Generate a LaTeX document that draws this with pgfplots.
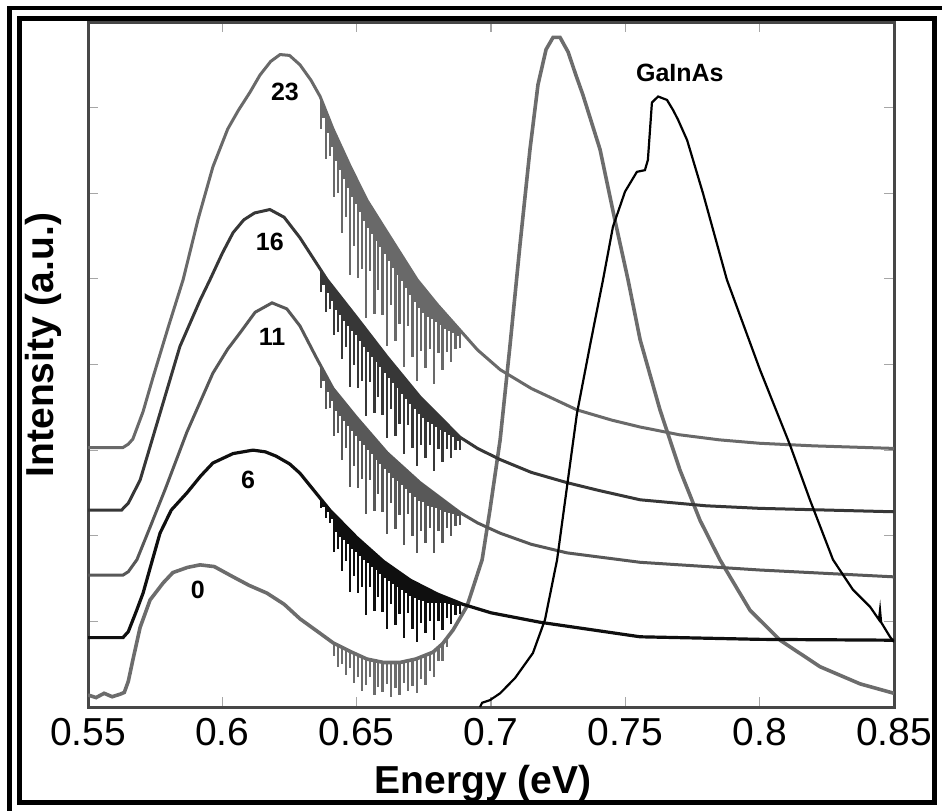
\documentclass[border=0pt]{standalone}
\usepackage{fontspec}
\setmainfont{Liberation Sans}
\usepackage{pgfplots}
\pgfplotsset{compat=1.18}

\definecolor{cZero}{RGB}{108,108,108}
\definecolor{cTwth}{RGB}{105,105,105}
\definecolor{cSixt}{RGB}{55,55,55}
\definecolor{cElev}{RGB}{88,88,88}
\definecolor{cSix}{RGB}{15,15,15}

\newcommand{\tickfont}{\fontsize{19.5bp}{20bp}\selectfont}
\newcommand{\labfont}{\bfseries\fontsize{19.5bp}{20bp}\selectfont}
\newcommand{\curvefont}{\bfseries\fontsize{12.5bp}{13bp}\selectfont}

\pgfplotsset{
  dips/.style={draw=none, mark=none, forget plot,
    error bars/.cd, y dir=minus, y explicit, error mark=none,
    error bar style={draw=#1, solid, line width=1.2bp}},
}

\begin{document}
\begin{tikzpicture}
\useasboundingbox (0,0) rectangle (471bp,405.5bp);

\begin{axis}[
  at={(44bp,52bp)}, anchor=south west,
  scale only axis, width=403bp, height=342.5bp,
  xmin=0.55, xmax=0.85, ymin=0, ymax=8,
  xtick={0.55,0.6,0.65,0.7,0.75,0.8,0.85},
  xticklabels={0.55,0.6,0.65,0.7,0.75,0.8,0.85},
  ytick={1,2,3,4,5,6,7}, yticklabels={},
  xticklabel style={font=\tickfont, yshift=-2bp},
  axis line style={draw=black!72, line width=1.5bp},
  tick style={draw=black!35, line width=0.6bp},
  major tick length=5bp, tick align=inside,
]

%% sample 0 together with the large peak near 0.725 eV
\addplot[cZero, line width=1.8bp] table {
0.5500 0.14
0.5530 0.11
0.5560 0.16
0.5590 0.12
0.5620 0.15
0.5635 0.17
0.5650 0.30
0.5667 0.55
0.5694 0.93
0.5731 1.25
0.5780 1.45
0.5816 1.57
0.5870 1.63
0.5917 1.66
0.5970 1.64
0.6040 1.52
0.6100 1.42
0.6166 1.33
0.6230 1.20
0.6289 1.03
0.6364 0.86
0.6412 0.75
0.6475 0.65
0.6538 0.56
0.6600 0.52
0.6661 0.52
0.6720 0.56
0.6784 0.64
0.6820 0.74
0.6859 0.90
0.6911 1.18
0.6967 1.72
0.6996 2.30
0.7034 3.12
0.7071 4.23
0.7108 5.40
0.7145 6.51
0.7175 7.27
0.7205 7.68
0.7231 7.82
0.7257 7.82
0.7287 7.65
0.7316 7.38
0.7342 7.15
0.7406 6.51
0.7461 5.69
0.7510 4.99
0.7555 4.29
0.7629 3.47
0.7703 2.77
0.7778 2.18
0.7852 1.72
0.7964 1.13
0.8076 0.78
0.8225 0.47
0.8374 0.27
0.8500 0.16
};
\addplot[dips=cZero] table[x=x, y=y, y error=d] {
x y d
0.6415 0.75 0.15
0.6430 0.72 0.25
0.6446 0.70 0.20
0.6460 0.67 0.30
0.6476 0.65 0.20
0.6490 0.63 0.35
0.6505 0.60 0.25
0.6520 0.59 0.40
0.6535 0.56 0.30
0.6550 0.55 0.20
0.6566 0.54 0.40
0.6580 0.53 0.30
0.6596 0.52 0.35
0.6612 0.52 0.25
0.6628 0.52 0.40
0.6644 0.52 0.30
0.6660 0.52 0.38
0.6676 0.53 0.25
0.6692 0.54 0.35
0.6708 0.55 0.30
0.6724 0.56 0.40
0.6740 0.58 0.25
0.6756 0.61 0.35
0.6772 0.62 0.20
0.6788 0.65 0.30
0.6804 0.69 0.15
0.6820 0.74 0.20
0.6836 0.80 0.10
};

%% sample 23
\addplot[cTwth, line width=1.5bp] table {
0.5500 3.03
0.5630 3.03
0.5650 3.07
0.5667 3.13
0.5705 3.45
0.5742 3.85
0.5800 4.45
0.5854 4.99
0.5910 5.70
0.5965 6.31
0.6020 6.75
0.6060 6.97
0.6103 7.18
0.6140 7.38
0.6180 7.54
0.6215 7.62
0.6250 7.61
0.6289 7.50
0.6330 7.32
0.6364 7.13
0.6412 6.75
0.6475 6.32
0.6538 5.92
0.6600 5.61
0.6725 4.99
0.6800 4.70
0.6885 4.40
0.6950 4.17
0.7034 3.94
0.7150 3.72
0.7320 3.47
0.7450 3.35
0.7555 3.27
0.7700 3.18
0.7850 3.12
0.8000 3.08
0.8200 3.05
0.8500 3.02
};
\addplot[dips=cTwth] table[x=x, y=y, y error=d] {
x y d
0.6368 7.10 0.35
0.6376 7.03 0.15
0.6385 6.96 0.56
0.6392 6.90 0.20
0.6400 6.85 0.42
0.6408 6.79 0.25
0.6415 6.73 0.77
0.6422 6.68 0.30
0.6430 6.63 0.63
0.6438 6.57 0.30
0.6446 6.52 0.98
0.6453 6.47 0.30
0.6460 6.42 0.70
0.6468 6.36 0.30
0.6476 6.31 1.26
0.6483 6.26 0.30
0.6490 6.22 0.84
0.6498 6.17 0.30
0.6505 6.13 1.12
0.6512 6.08 0.30
0.6520 6.03 0.91
0.6528 5.98 0.30
0.6535 5.94 1.40
0.6542 5.90 0.30
0.6550 5.86 0.77
0.6558 5.82 0.30
0.6566 5.78 1.19
0.6573 5.74 0.30
0.6580 5.71 0.84
0.6588 5.67 0.30
0.6596 5.63 1.05
0.6604 5.59 0.30
0.6612 5.55 1.33
0.6620 5.51 0.30
0.6628 5.47 0.77
0.6636 5.43 0.30
0.6644 5.39 1.12
0.6652 5.35 0.30
0.6660 5.31 0.84
0.6668 5.27 0.30
0.6676 5.23 1.26
0.6684 5.19 0.30
0.6692 5.15 0.70
0.6700 5.11 0.30
0.6708 5.07 0.98
0.6716 5.03 0.30
0.6724 5.00 1.19
0.6732 4.96 0.30
0.6740 4.93 0.77
0.6748 4.90 0.30
0.6756 4.87 0.91
0.6764 4.84 0.28
0.6772 4.81 0.63
0.6780 4.78 0.25
0.6788 4.75 0.98
0.6796 4.72 0.22
0.6804 4.69 0.56
0.6812 4.66 0.20
0.6820 4.63 0.70
0.6828 4.60 0.18
0.6836 4.57 0.42
0.6844 4.54 0.15
0.6852 4.52 0.49
0.6860 4.49 0.12
0.6868 4.46 0.28
0.6876 4.43 0.10
0.6884 4.40 0.21
};

%% sample 16
\addplot[cSixt, line width=1.5bp] table {
0.5500 2.30
0.5625 2.30
0.5650 2.38
0.5694 2.65
0.5768 3.43
0.5842 4.21
0.5917 4.75
0.5954 4.99
0.6000 5.30
0.6040 5.54
0.6080 5.69
0.6120 5.77
0.6177 5.81
0.6230 5.72
0.6289 5.48
0.6390 4.99
0.6500 4.55
0.6613 4.09
0.6736 3.62
0.6885 3.15
0.6950 3.02
0.7034 2.89
0.7150 2.74
0.7283 2.62
0.7400 2.53
0.7555 2.42
0.7800 2.35
0.8000 2.32
0.8500 2.28
};
\addplot[dips=cSixt] table[x=x, y=y, y error=d] {
x y d
0.6368 5.10 0.25
0.6376 5.05 0.12
0.6385 5.01 0.40
0.6392 4.98 0.15
0.6400 4.95 0.30
0.6408 4.92 0.18
0.6415 4.89 0.55
0.6422 4.86 0.22
0.6430 4.83 0.45
0.6438 4.80 0.22
0.6446 4.76 0.70
0.6453 4.73 0.22
0.6460 4.71 0.50
0.6468 4.67 0.22
0.6476 4.64 0.90
0.6483 4.61 0.22
0.6490 4.59 0.60
0.6498 4.56 0.22
0.6505 4.53 0.80
0.6512 4.50 0.22
0.6520 4.46 0.65
0.6528 4.43 0.22
0.6535 4.40 1.00
0.6542 4.37 0.22
0.6550 4.34 0.55
0.6558 4.31 0.22
0.6566 4.28 0.85
0.6573 4.25 0.22
0.6580 4.22 0.60
0.6588 4.19 0.22
0.6596 4.16 0.75
0.6604 4.12 0.22
0.6612 4.09 0.95
0.6620 4.06 0.22
0.6628 4.03 0.55
0.6636 4.00 0.22
0.6644 3.97 0.80
0.6652 3.94 0.22
0.6660 3.91 0.60
0.6668 3.88 0.22
0.6676 3.85 0.90
0.6684 3.82 0.22
0.6692 3.79 0.50
0.6700 3.76 0.22
0.6708 3.73 0.70
0.6716 3.70 0.22
0.6724 3.67 0.85
0.6732 3.64 0.22
0.6740 3.61 0.55
0.6748 3.58 0.20
0.6756 3.56 0.65
0.6764 3.53 0.20
0.6772 3.51 0.45
0.6780 3.48 0.18
0.6788 3.46 0.70
0.6796 3.43 0.16
0.6804 3.41 0.40
0.6812 3.38 0.14
0.6820 3.36 0.50
0.6828 3.33 0.12
0.6836 3.31 0.30
0.6844 3.28 0.10
0.6852 3.26 0.35
0.6860 3.23 0.08
0.6868 3.20 0.20
0.6876 3.17 0.06
0.6884 3.15 0.15
};

%% sample 11
\addplot[cElev, line width=1.5bp] table {
0.5500 1.54
0.5630 1.54
0.5650 1.58
0.5682 1.72
0.5731 2.10
0.5787 2.54
0.5868 3.21
0.5965 3.90
0.6020 4.18
0.6066 4.37
0.6122 4.61
0.6185 4.72
0.6240 4.65
0.6289 4.45
0.6350 4.08
0.6412 3.72
0.6500 3.38
0.6613 2.97
0.6736 2.62
0.6885 2.27
0.6950 2.15
0.7034 2.03
0.7150 1.90
0.7283 1.80
0.7555 1.69
0.8000 1.60
0.8500 1.52
};
\addplot[dips=cElev] table[x=x, y=y, y error=d] {
x y d
0.6368 3.98 0.25
0.6376 3.93 0.12
0.6385 3.88 0.40
0.6392 3.83 0.15
0.6400 3.79 0.30
0.6408 3.75 0.18
0.6415 3.71 0.55
0.6422 3.68 0.22
0.6430 3.65 0.45
0.6438 3.62 0.22
0.6446 3.59 0.70
0.6453 3.56 0.22
0.6460 3.53 0.50
0.6468 3.50 0.22
0.6476 3.47 0.90
0.6483 3.44 0.22
0.6490 3.42 0.60
0.6498 3.39 0.22
0.6505 3.36 0.80
0.6512 3.33 0.22
0.6520 3.31 0.65
0.6528 3.28 0.22
0.6535 3.25 1.00
0.6542 3.22 0.22
0.6550 3.20 0.55
0.6558 3.17 0.22
0.6566 3.14 0.85
0.6573 3.11 0.22
0.6580 3.09 0.60
0.6588 3.06 0.22
0.6596 3.03 0.75
0.6604 3.00 0.22
0.6612 2.97 0.95
0.6620 2.95 0.22
0.6628 2.93 0.55
0.6636 2.90 0.22
0.6644 2.88 0.80
0.6652 2.86 0.22
0.6660 2.84 0.60
0.6668 2.81 0.22
0.6676 2.79 0.90
0.6684 2.77 0.22
0.6692 2.75 0.50
0.6700 2.72 0.22
0.6708 2.70 0.70
0.6716 2.67 0.22
0.6724 2.65 0.85
0.6732 2.63 0.22
0.6740 2.61 0.55
0.6748 2.59 0.20
0.6756 2.57 0.65
0.6764 2.55 0.20
0.6772 2.54 0.45
0.6780 2.52 0.18
0.6788 2.50 0.70
0.6796 2.48 0.16
0.6804 2.46 0.40
0.6812 2.44 0.14
0.6820 2.42 0.50
0.6828 2.40 0.12
0.6836 2.39 0.30
0.6844 2.37 0.10
0.6852 2.35 0.35
0.6860 2.33 0.08
0.6868 2.31 0.20
0.6876 2.29 0.06
0.6884 2.27 0.15
};

%% sample 6
\addplot[cSix, line width=1.6bp] table {
0.5500 0.81
0.5630 0.81
0.5650 0.88
0.5680 1.12
0.5705 1.33
0.5740 1.72
0.5768 2.03
0.5810 2.30
0.5868 2.50
0.5920 2.70
0.5965 2.85
0.6040 2.96
0.6114 3.00
0.6160 2.98
0.6200 2.93
0.6250 2.84
0.6289 2.73
0.6400 2.30
0.6500 1.98
0.6600 1.70
0.6700 1.48
0.6800 1.32
0.6895 1.20
0.7000 1.10
0.7182 0.99
0.7555 0.82
0.8000 0.79
0.8500 0.78
};
\addplot[dips=cSix] table[x=x, y=y, y error=d] {
x y d
0.6368 2.42 0.10
0.6376 2.39 0.05
0.6385 2.36 0.15
0.6392 2.33 0.05
0.6400 2.30 0.15
0.6408 2.27 0.08
0.6415 2.25 0.44
0.6422 2.22 0.18
0.6430 2.20 0.36
0.6438 2.17 0.18
0.6446 2.15 0.56
0.6453 2.13 0.18
0.6460 2.11 0.40
0.6468 2.08 0.18
0.6476 2.06 0.72
0.6483 2.03 0.18
0.6490 2.01 0.48
0.6498 1.99 0.18
0.6505 1.97 0.64
0.6512 1.94 0.18
0.6520 1.92 0.52
0.6528 1.90 0.18
0.6535 1.88 0.80
0.6542 1.86 0.18
0.6550 1.84 0.44
0.6558 1.82 0.18
0.6566 1.80 0.68
0.6573 1.78 0.18
0.6580 1.76 0.48
0.6588 1.73 0.18
0.6596 1.71 0.60
0.6604 1.69 0.18
0.6612 1.67 0.76
0.6620 1.65 0.18
0.6628 1.64 0.44
0.6636 1.62 0.18
0.6644 1.60 0.64
0.6652 1.58 0.18
0.6660 1.57 0.48
0.6668 1.55 0.18
0.6676 1.53 0.72
0.6684 1.51 0.18
0.6692 1.50 0.40
0.6700 1.48 0.18
0.6708 1.47 0.56
0.6716 1.45 0.18
0.6724 1.44 0.68
0.6732 1.43 0.18
0.6740 1.42 0.44
0.6748 1.40 0.16
0.6756 1.39 0.52
0.6764 1.37 0.16
0.6772 1.36 0.36
0.6780 1.35 0.14
0.6788 1.34 0.56
0.6796 1.33 0.12
0.6804 1.32 0.32
0.6812 1.31 0.10
0.6820 1.30 0.40
0.6828 1.29 0.08
0.6836 1.28 0.24
0.6844 1.26 0.06
0.6852 1.25 0.28
0.6860 1.24 0.05
0.6868 1.23 0.16
0.6876 1.22 0.04
0.6884 1.21 0.12
};

%% GaInAs reference
\addplot[black, line width=1.1bp] table {
0.6959 0.00
0.6967 0.05
0.6996 0.08
0.7034 0.16
0.7090 0.34
0.7156 0.63
0.7201 1.02
0.7246 1.72
0.7320 3.43
0.7369 4.23
0.7417 4.99
0.7454 5.61
0.7499 6.02
0.7543 6.25
0.7573 6.27
0.7584 6.39
0.7599 7.06
0.7622 7.13
0.7655 7.09
0.7678 6.97
0.7696 6.86
0.7730 6.62
0.7789 6.00
0.7878 4.99
0.8001 3.94
0.8113 3.06
0.8187 2.42
0.8273 1.72
0.8347 1.37
0.8411 1.17
0.8444 1.02
0.8448 1.13
0.8452 0.99
0.8485 0.82
0.8500 0.76
};

\node[font=\curvefont] at (axis cs:0.6233,7.18) {23};
\node[font=\curvefont] at (axis cs:0.6177,5.43) {16};
\node[font=\curvefont] at (axis cs:0.6185,4.32) {11};
\node[font=\curvefont] at (axis cs:0.6096,2.65) {6};
\node[font=\curvefont] at (axis cs:0.5909,1.37) {0};
\node[font=\curvefont] at (axis cs:0.7703,7.41) {GaInAs};
\end{axis}

\node[font=\labfont, rotate=90, anchor=base] at (26.5bp,233bp) {Intensity (a.u.)};
\node[font=\labfont, anchor=base] at (241.5bp,9bp) {Energy (eV)};

\draw[line width=2.5bp] (9.75bp,4.25bp) rectangle (467.25bp,396.25bp);
\draw[line width=2.25bp] (4.75bp,-20bp) rectangle (490bp,401.5bp);
\end{tikzpicture}
\end{document}
